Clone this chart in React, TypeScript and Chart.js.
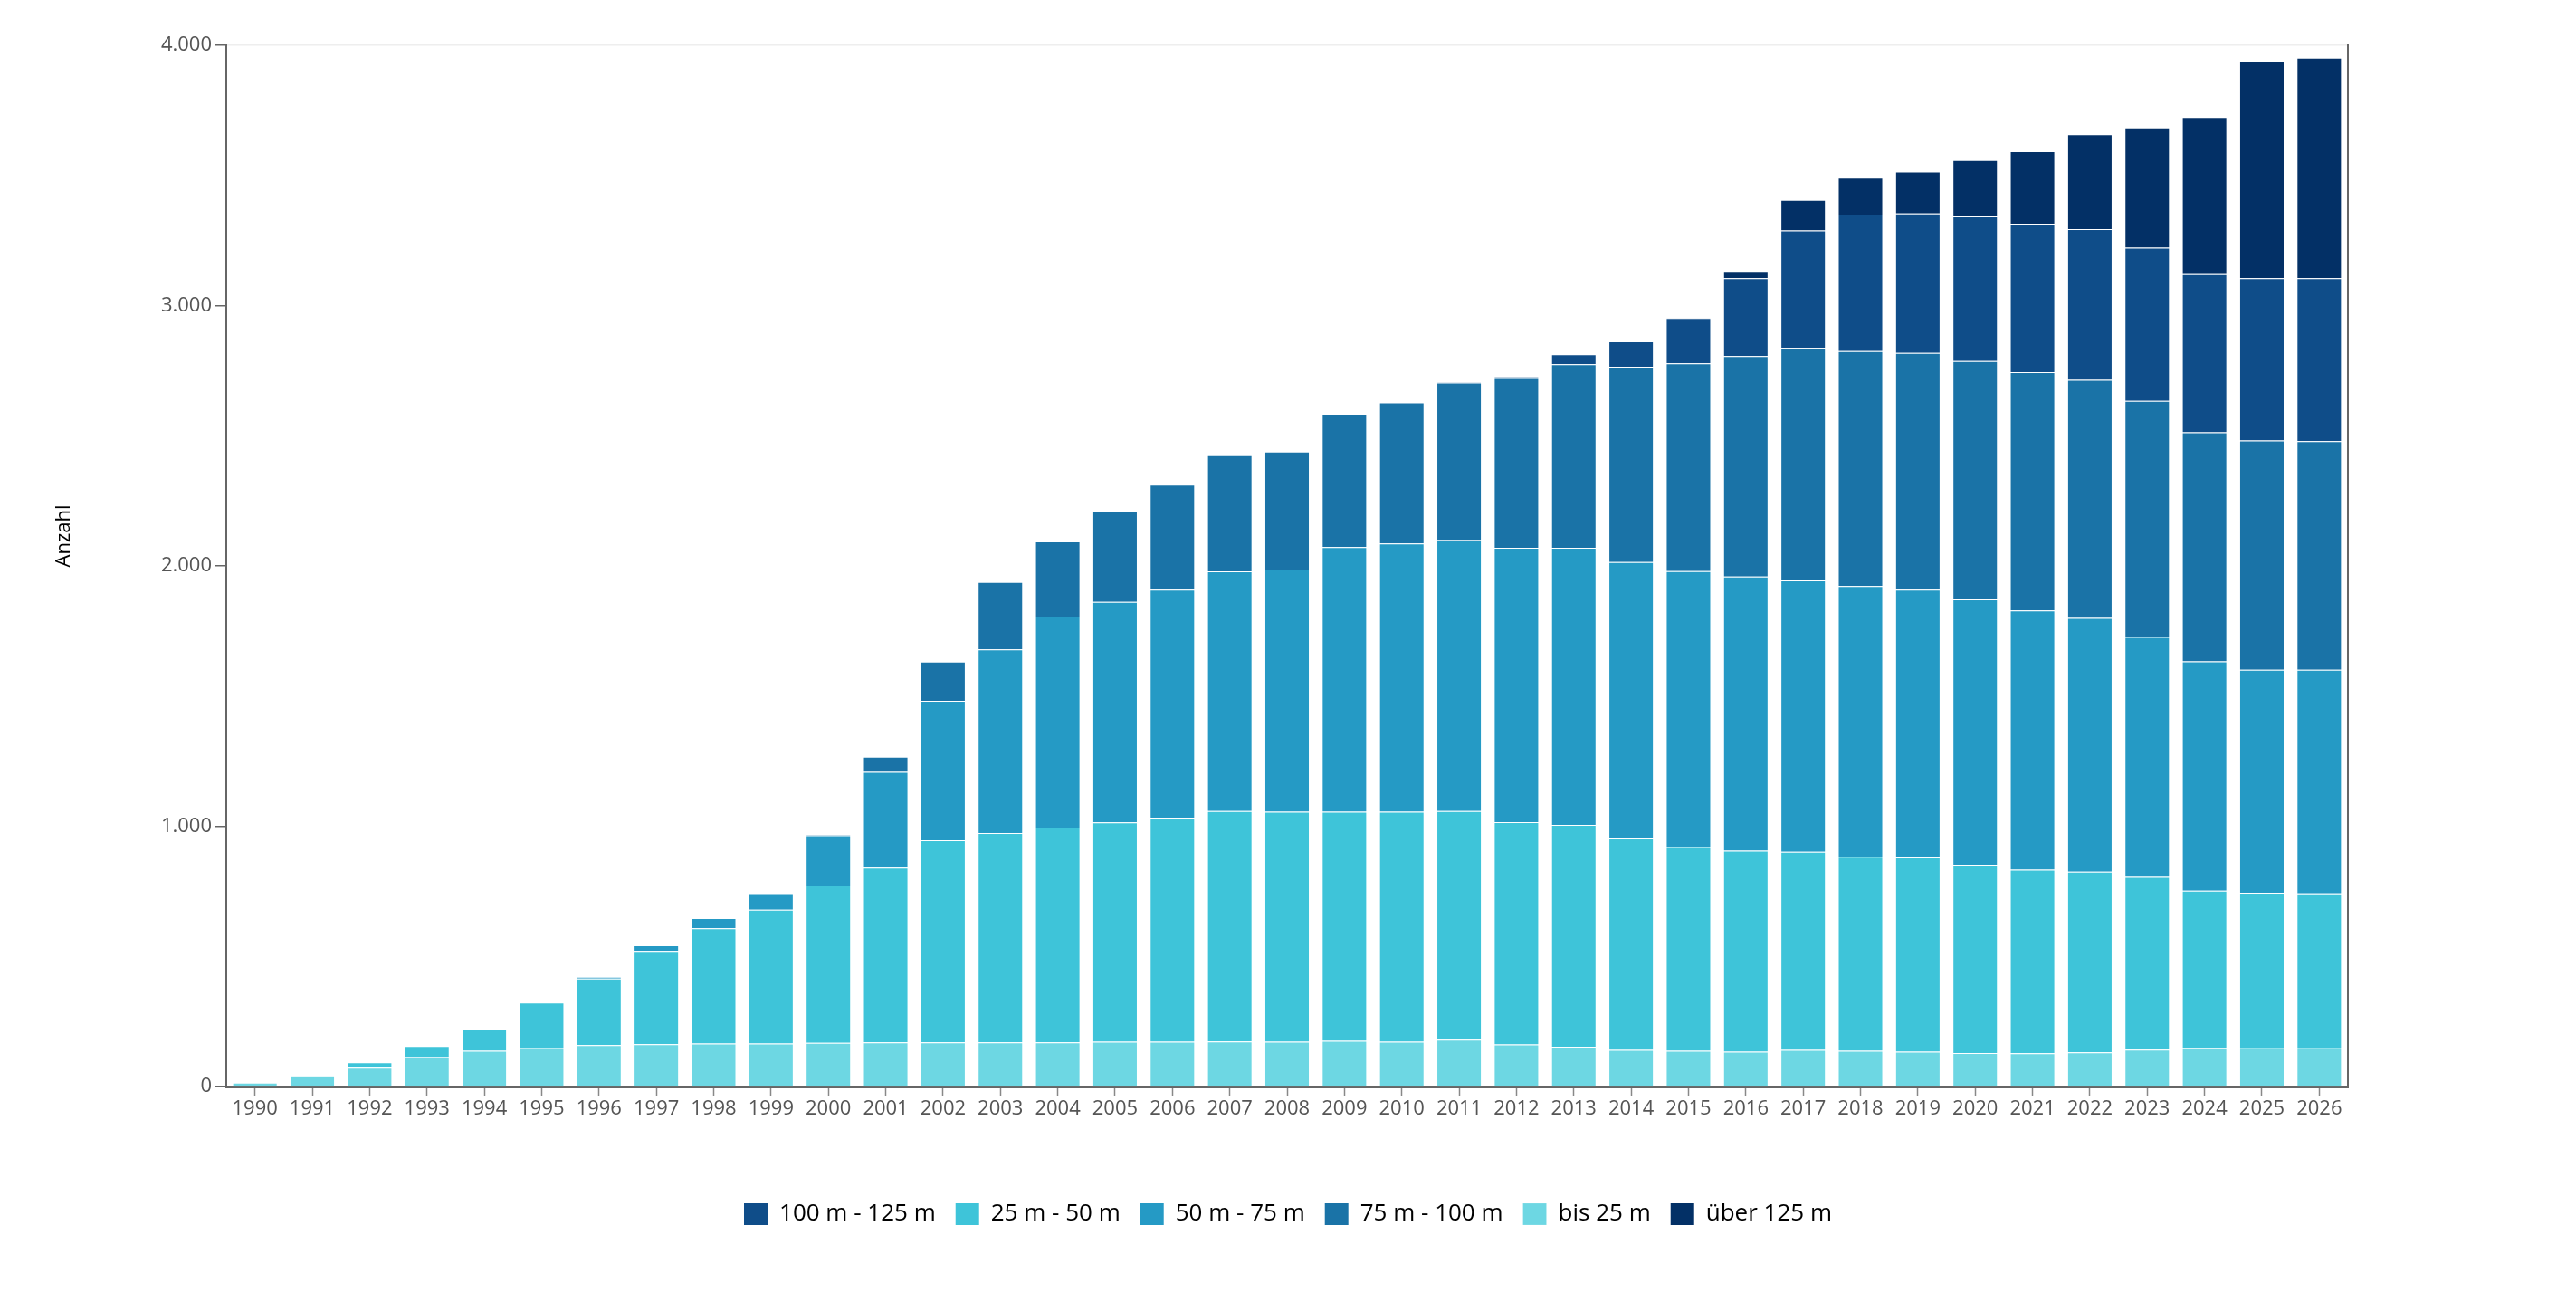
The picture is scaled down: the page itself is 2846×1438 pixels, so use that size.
import { useEffect, useRef } from "react";
import { Chart, registerables } from "chart.js";

Chart.register(...registerables);

const years = [
  "1990", "1991", "1992", "1993", "1994", "1995", "1996", "1997", "1998", "1999",
  "2000", "2001", "2002", "2003", "2004", "2005", "2006", "2007", "2008", "2009",
  "2010", "2011", "2012", "2013", "2014", "2015", "2016", "2017", "2018", "2019",
  "2020", "2021", "2022", "2023", "2024", "2025", "2026",
];

const bis25 = [
  15, 40, 72, 113, 137, 148, 159, 163, 165, 165, 168, 170, 170, 170, 170, 172, 172, 173, 172, 176,
  172, 180, 162, 153, 141, 137, 134, 141, 137, 134, 129, 128, 131, 142, 147, 149, 149,
];
const m25bis50 = [
  0, 2, 21, 43, 82, 175, 256, 358, 443, 514, 604, 671, 776, 804, 825, 843, 861, 885, 884, 880,
  884, 878, 854, 852, 812, 783, 772, 761, 746, 746, 723, 705, 694, 663, 605, 595, 593,
];
const m50bis75 = [
  0, 0, 0, 0, 3, 0, 6, 22, 39, 64, 193, 368, 536, 705, 810, 847, 876, 921, 930, 1016,
  1030, 1041, 1054, 1065, 1062, 1060, 1053, 1042, 1040, 1029, 1019, 996, 975, 922, 881, 857, 859,
];
const m75bis100 = [
  0, 0, 0, 0, 0, 0, 0, 0, 0, 0, 4, 58, 150, 259, 289, 350, 403, 446, 453, 512,
  542, 605, 652, 705, 750, 798, 847, 893, 902, 909, 916, 915, 915, 907, 880, 881, 878,
];
const m100bis125 = [
  0, 0, 0, 0, 0, 0, 0, 0, 0, 0, 0, 0, 0, 0, 0, 0, 0, 0, 0, 0,
  0, 2, 5, 38, 98, 174, 299, 452, 525, 536, 556, 571, 579, 589, 608, 623, 626,
];
const ueber125 = [
  0, 0, 0, 0, 0, 0, 0, 0, 0, 0, 0, 0, 0, 0, 0, 0, 0, 0, 0, 0,
  0, 0, 0, 0, 0, 2, 28, 117, 141, 161, 216, 278, 364, 461, 603, 836, 847,
];

const legendOrder = ["100 m - 125 m", "25 m - 50 m", "50 m - 75 m", "75 m - 100 m", "bis 25 m", "über 125 m"];

const FONT = "'Open Sans', 'Noto Sans', sans-serif";

const formatDe = (v: number) => String(v).replace(/\B(?=(\d{3})+(?!\d))/g, ".");

const App = () => {
  const chartRef = useRef<HTMLCanvasElement>(null);
  const chartInstanceRef = useRef<Chart>();

  useEffect(() => {
    if (!chartRef.current) return;
    if (chartInstanceRef.current) chartInstanceRef.current.destroy();

    const segment = (label: string, data: number[], color: string) => ({
      label,
      data,
      backgroundColor: color,
      borderColor: "rgba(255, 255, 255, 0.25)",
      borderWidth: (c: any) => (c.raw ? { top: 1, left: 1, right: 1, bottom: 0 } : 0),
      borderSkipped: false as const,
      barPercentage: 0.79,
      categoryPercentage: 1,
    });

    chartInstanceRef.current = new Chart(chartRef.current, {
      type: "bar",
      data: {
        labels: years,
        datasets: [
          segment("bis 25 m", bis25, "#6dd7e3"),
          segment("25 m - 50 m", m25bis50, "#3ec4d9"),
          segment("50 m - 75 m", m50bis75, "#259ac5"),
          segment("75 m - 100 m", m75bis100, "#1a73a7"),
          segment("100 m - 125 m", m100bis125, "#0f4d89"),
          segment("über 125 m", ueber125, "#033066"),
        ],
      },
      options: {
        animation: false,
        responsive: true,
        maintainAspectRatio: false,
        layout: { padding: { left: 46, right: 46, top: 42, bottom: 66 } },
        plugins: {
          tooltip: { enabled: false },
          legend: {
            position: "bottom",
            labels: {
              color: "#000",
              font: { family: FONT, size: 26 },
              boxWidth: 26,
              boxHeight: 24,
              padding: 22,
              sort: (a, b) => legendOrder.indexOf(a.text) - legendOrder.indexOf(b.text),
            },
          },
        },
        scales: {
          x: {
            stacked: true,
            afterFit: (scale) => {
              scale.height = 106;
            },
            grid: {
              offset: false,
              drawOnChartArea: false,
              tickLength: 10,
              tickColor: "#888",
              tickWidth: 1.5,
            },
            border: { color: "#666", width: 3 },
            ticks: {
              color: "#555",
              font: { family: FONT, size: 22 },
              padding: 2,
              maxRotation: 0,
              autoSkip: false,
            },
          },
          y: {
            stacked: true,
            min: 0,
            max: 4000,
            afterFit: (scale) => {
              scale.width = 196;
            },
            grid: {
              color: (c) => (c.tick && c.tick.value === 4000 ? "#eeeeee" : "rgba(0,0,0,0)"),
              lineWidth: 1.5,
              tickLength: 12,
              tickColor: "#666",
              tickWidth: 1.5,
            },
            border: { color: "#666", width: 2 },
            ticks: {
              stepSize: 1000,
              color: "#555",
              font: { family: FONT, size: 22 },
              padding: 4,
              callback: (v) => formatDe(Number(v)),
            },
            title: {
              display: true,
              // leading en spaces lift the rotated label a little above the axis centre
              text: "\u2002\u2002\u2002\u2002\u2002\u2002Anzahl",
              color: "#000",
              font: { family: FONT, size: 22 },
              padding: { top: 4, bottom: 4 },
            },
          },
          y2: {
            position: "right",
            min: 0,
            max: 4000,
            afterFit: (scale) => {
              scale.width = 198;
            },
            grid: { display: false },
            ticks: { display: false },
            border: { display: true, color: "#666", width: 2 },
          },
        },
      },
    });

    return () => {
      if (chartInstanceRef.current) {
        chartInstanceRef.current.destroy();
        chartInstanceRef.current = undefined;
      }
    };
  }, []);

  return (
    <div style={{ position: "relative", width: 2830, height: 1422 }}>
      <canvas ref={chartRef} />
    </div>
  );
};

export default App;
